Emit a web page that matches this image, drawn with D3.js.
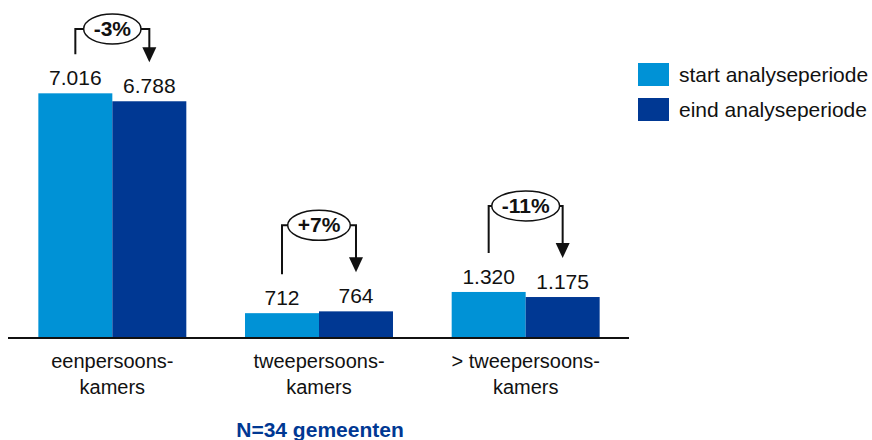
<!DOCTYPE html>
<html>
<head>
<meta charset="utf-8">
<script src="https://cdn.jsdelivr.net/npm/d3@7"></script>
<style>
    body { margin: 0; background: #fff; }
    svg { font-family: "Liberation Sans", Arial, sans-serif; }
</style>
</head>
<body>
<svg id="chart" width="872" height="440"></svg>
<script>
// data
const categories = [
    ["eenpersoons-", "kamers"],
    ["tweepersoons-", "kamers"],
    ["> tweepersoons-", "kamers"]
];
const startValues = [7016, 712, 1320];
const endValues = [6788, 764, 1175];
const changeLabels = ["-3%", "+7%", "-11%"];
const seriesNames = ["start analyseperiode", "eind analyseperiode"];
const seriesColors = ["#0092d6", "#003893"];
const footnote = "N=34 gemeenten";

const svg = d3.select("#chart");
const baseY = 338;

const fmt = function(v) {
    // dutch thousands separator
    return d3.format(",")(v).replace(/,/g, ".");
};

const x0 = d3.scaleBand()
    .domain(d3.range(categories.length))
    .range([9, 629])
    .paddingInner(0.284)
    .paddingOuter(0.142);

const x1 = d3.scaleBand()
    .domain([0, 1])
    .range([0, x0.bandwidth()]);

const y = d3.scaleLinear()
    .domain([0, 8000])
    .range([baseY, 59]);

const rows = categories.map(function(c, i) {
    return { i: i, values: [startValues[i], endValues[i]] };
});

const groups = svg.append("g")
    .selectAll("g")
    .data(rows)
    .enter().append("g")
    .attr("transform", d => "translate(" + x0(d.i) + ",0)");

groups.selectAll("rect")
    .data(d => d.values.map((v, k) => ({ k: k, v: v })))
    .enter().append("rect")
    .attr("x", d => x1(d.k))
    .attr("y", d => y(d.v))
    .attr("width", x1.bandwidth())
    .attr("height", d => baseY - y(d.v))
    .attr("fill", d => seriesColors[d.k]);

groups.selectAll("text.val")
    .data(d => d.values.map((v, k) => ({ k: k, v: v })))
    .enter().append("text")
    .attr("class", "val")
    .attr("x", d => x1(d.k) + x1.bandwidth() / 2)
    .attr("y", d => y(d.v) - 8)
    .attr("text-anchor", "middle")
    .attr("font-size", 21)
    .attr("fill", "#111")
    .text(d => fmt(d.v));

// axis line
svg.append("line")
    .attr("x1", 8).attr("x2", 629)
    .attr("y1", baseY).attr("y2", baseY)
    .attr("stroke", "#111")
    .attr("stroke-width", 2);

// category labels
const catText = svg.append("g")
    .selectAll("text")
    .data(categories)
    .enter().append("text")
    .attr("text-anchor", "middle")
    .attr("font-size", 20)
    .attr("fill", "#111")
    .attr("x", (d, i) => x0(i) + x0.bandwidth() / 2)
    .attr("y", 368);

catText.selectAll("tspan")
    .data(d => d)
    .enter().append("tspan")
    .attr("x", function() { return d3.select(this.parentNode).attr("x"); })
    .attr("dy", (d, i) => i === 0 ? 0 : 26)
    .text(d => d);

// change brackets with ellipse labels
rows.forEach(function(d) {
    const g = svg.append("g");
    const xa = x0(d.i) + x1(0) + x1.bandwidth() / 2;
    const xb = x0(d.i) + x1(1) + x1.bandwidth() / 2;
    const yTop = Math.max(29, y(d3.max(d.values)) - 86);
    const yA = y(d.values[0]) - 39;
    const yB = y(d.values[1]) - 39;
    const cx = (xa + xb) / 2;

    g.append("path")
        .attr("d", "M" + xa + "," + yA + "V" + yTop + "H" + xb + "V" + (yB - 14))
        .attr("fill", "none")
        .attr("stroke", "#111")
        .attr("stroke-width", 2);

    g.append("path")
        .attr("d", "M" + (xb - 7) + "," + (yB - 15) + "L" + (xb + 7) + "," + (yB - 15) + "L" + xb + "," + yB + "Z")
        .attr("fill", "#111");

    const ell = g.append("ellipse")
        .attr("cx", cx)
        .attr("cy", yTop)
        .attr("fill", "#fff")
        .attr("stroke", "#111")
        .attr("stroke-width", 1.5);

    const t = g.append("text")
        .attr("x", cx)
        .attr("y", yTop + 7)
        .attr("text-anchor", "middle")
        .attr("font-size", 21)
        .attr("font-weight", "bold")
        .attr("fill", "#111")
        .text(changeLabels[d.i]);
    const w = t.node().getComputedTextLength();

    ell.attr("rx", w / 2 + 10).attr("ry", 15);
});

// legend
const legend = svg.append("g")
    .selectAll("g")
    .data(seriesNames)
    .enter().append("g")
    .attr("transform", (d, i) => "translate(638," + (63 + i * 35) + ")");

legend.append("rect")
    .attr("width", 31)
    .attr("height", 23)
    .attr("fill", (d, i) => seriesColors[i]);

legend.append("text")
    .attr("x", 41)
    .attr("y", 19)
    .attr("font-size", 21)
    .attr("fill", "#111")
    .text(d => d);

svg.append("text")
    .attr("x", 320)
    .attr("y", 437)
    .attr("text-anchor", "middle")
    .attr("font-size", 21)
    .attr("font-weight", "bold")
    .attr("fill", "#003893")
    .text(footnote);
</script>
</body>
</html>
